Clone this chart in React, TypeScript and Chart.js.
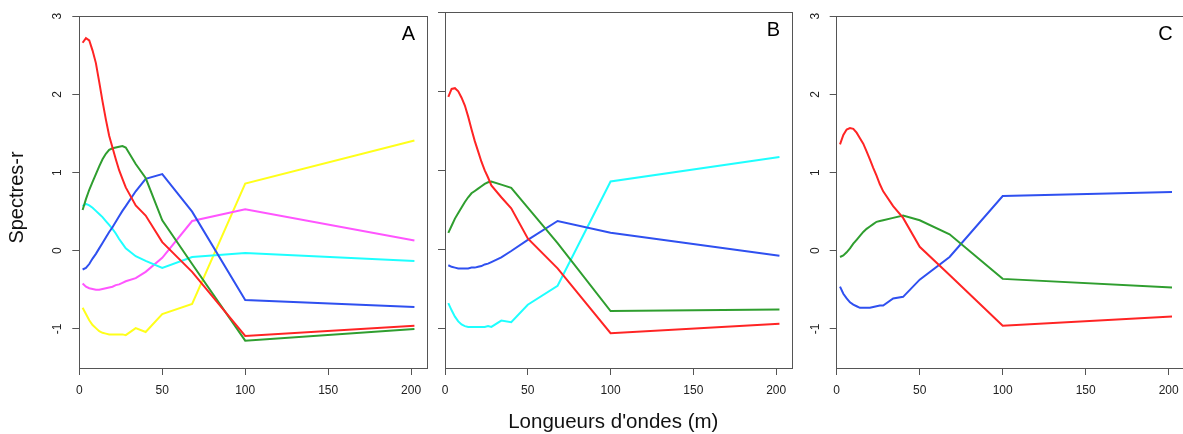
import React, { useEffect, useRef } from 'react';
import { Chart, registerables } from 'chart.js';

Chart.register(...registerables);

// ---------- data ----------
const wavelengths = [2, 4, 6, 8, 10, 12, 14, 16, 18, 20, 22, 24, 26, 28, 34, 40, 50, 68, 100, 202];
const xTickValues = [0, 50, 100, 150, 200];
const yTickValues = [-1, 0, 1, 2, 3];
const panelLetters = ['A', 'B', 'C'];
const xAxisTitle = "Longueurs d'ondes (m)";
const yAxisTitle = 'Spectres-r';

const aRed = [2.66, 2.72, 2.69, 2.56, 2.40, 2.16, 1.91, 1.68, 1.47, 1.32, 1.17, 1.03, 0.92, 0.81, 0.58, 0.45, 0.11, -0.27, -1.09, -0.96];
const aGreen = [0.52, 0.66, 0.78, 0.88, 0.98, 1.08, 1.17, 1.24, 1.29, 1.31, 1.32, 1.33, 1.34, 1.32, 1.11, 0.93, 0.39, -0.17, -1.15, -1.0];
const aBlue = [-0.24, -0.22, -0.17, -0.10, -0.04, 0.03, 0.10, 0.17, 0.24, 0.30, 0.37, 0.44, 0.51, 0.57, 0.76, 0.92, 0.98, 0.50, -0.63, -0.72];
const aCyan = [0.57, 0.60, 0.58, 0.55, 0.51, 0.47, 0.43, 0.38, 0.33, 0.28, 0.22, 0.15, 0.09, 0.03, -0.07, -0.13, -0.22, -0.08, -0.03, -0.13];
const aMagenta = [-0.42, -0.46, -0.48, -0.49, -0.50, -0.50, -0.49, -0.48, -0.47, -0.46, -0.44, -0.43, -0.41, -0.39, -0.35, -0.27, -0.09, 0.38, 0.53, 0.13];
const aYellow = [-0.73, -0.81, -0.89, -0.95, -0.99, -1.03, -1.05, -1.06, -1.07, -1.07, -1.07, -1.07, -1.07, -1.08, -0.99, -1.04, -0.81, -0.68, 0.86, 1.41];

const bRed = [1.93, 2.03, 2.04, 2.00, 1.92, 1.82, 1.68, 1.52, 1.37, 1.24, 1.11, 1.00, 0.91, 0.81, 0.66, 0.52, 0.14, -0.24, -1.06, -0.94];
const bGreen = [0.21, 0.30, 0.39, 0.46, 0.53, 0.60, 0.66, 0.71, 0.74, 0.77, 0.80, 0.83, 0.85, 0.86, 0.82, 0.78, 0.53, 0.08, -0.78, -0.76];
const bBlue = [-0.20, -0.22, -0.23, -0.24, -0.24, -0.24, -0.24, -0.23, -0.23, -0.22, -0.21, -0.19, -0.18, -0.16, -0.10, -0.02, 0.12, 0.36, 0.21, -0.08];
const bCyan = [-0.68, -0.77, -0.85, -0.91, -0.95, -0.97, -0.98, -0.98, -0.98, -0.98, -0.98, -0.98, -0.97, -0.98, -0.90, -0.92, -0.70, -0.46, 0.86, 1.17];

const cRed = [1.36, 1.48, 1.55, 1.57, 1.56, 1.51, 1.44, 1.37, 1.27, 1.17, 1.06, 0.96, 0.85, 0.76, 0.57, 0.42, 0.05, -0.31, -0.96, -0.84];
const cGreen = [-0.08, -0.06, -0.02, 0.03, 0.09, 0.14, 0.19, 0.24, 0.28, 0.31, 0.34, 0.37, 0.38, 0.39, 0.42, 0.45, 0.39, 0.21, -0.36, -0.47];
const cBlue = [-0.46, -0.55, -0.61, -0.66, -0.69, -0.71, -0.73, -0.73, -0.73, -0.73, -0.72, -0.71, -0.70, -0.70, -0.61, -0.59, -0.37, -0.08, 0.70, 0.75];

// ---------- styles ----------
const RED = '#ff2424';
const GREEN = '#2f9e2f';
const BLUE = '#2f50f0';
const CYAN = '#1effff';
const MAGENTA = '#ff55ff';
const YELLOW = '#ffff1a';
const FRAME = '#555555';
const TEXT = '#222222';
const FONT = '"Liberation Sans", Arial, Helvetica, sans-serif';

const CANVAS_W = 1200;
const CANVAS_H = 434;
const PLOT_TOP = 12.3;
const PLOT_BOTTOM = 368;

const panelSeries = [
  [
    { color: RED, values: aRed },
    { color: GREEN, values: aGreen },
    { color: BLUE, values: aBlue },
    { color: CYAN, values: aCyan },
    { color: MAGENTA, values: aMagenta },
    { color: YELLOW, values: aYellow },
  ],
  [
    { color: RED, values: bRed },
    { color: GREEN, values: bGreen },
    { color: BLUE, values: bBlue },
    { color: CYAN, values: bCyan },
  ],
  [
    { color: RED, values: cRed },
    { color: GREEN, values: cGreen },
    { color: BLUE, values: cBlue },
  ],
];

const panelGeom = [
  { left: 79.3, right: 427.7, yLabels: true, titles: true },
  { left: 445, right: 792.7, yLabels: false, titles: false },
  { left: 836.7, right: 1185.3, yLabels: true, titles: false },
];

const decorPlugin = {
  id: 'decor',
  afterDatasetsDraw(chart: any, _args: any, opts: any) {
    const { ctx, chartArea } = chart;
    const { left, top, right, bottom } = chartArea;
    ctx.save();
    ctx.strokeStyle = FRAME;
    ctx.lineWidth = 1;
    const x0 = Math.floor(left) + 0.5;
    const y0 = Math.floor(top) + 0.5;
    const x1 = Math.floor(right) + 0.5;
    const y1 = Math.floor(bottom) + 0.5;
    ctx.strokeRect(x0, y0, x1 - x0, y1 - y0);

    ctx.fillStyle = '#000';
    ctx.font = `20px ${FONT}`;
    ctx.textAlign = 'right';
    ctx.textBaseline = 'alphabetic';
    ctx.fillText(opts.letter, right - 12.5, top + 23.7);

    if (opts.titles) {
      ctx.fillStyle = '#111';
      ctx.font = `20.5px ${FONT}`;
      ctx.textAlign = 'center';
      ctx.fillText(xAxisTitle, 613.3, 427.5);
      ctx.font = `20px ${FONT}`;
      ctx.translate(22.6, 197.5);
      ctx.rotate(-Math.PI / 2);
      ctx.fillText(yAxisTitle, 0, 0);
    }
    ctx.restore();
  },
};

function Panel({ index }: { index: number }) {
  const ref = useRef<HTMLCanvasElement>(null);
  useEffect(() => {
    const geom = panelGeom[index];
    const series = panelSeries[index];
    const chart = new Chart(ref.current as HTMLCanvasElement, {
      type: 'line',
      data: {
        datasets: series.map((s) => ({
          data: wavelengths.map((w, i) => ({ x: w, y: s.values[i] })),
          borderColor: s.color,
          backgroundColor: s.color,
          borderWidth: 2,
          pointRadius: 0,
          tension: 0,
          fill: false,
        })),
      },
      options: {
        animation: false,
        responsive: false,
        devicePixelRatio: 1,
        events: [],
        layout: {
          padding: { left: 0, right: CANVAS_W - geom.right, top: PLOT_TOP, bottom: 0 },
        },
        plugins: {
          legend: { display: false },
          tooltip: { enabled: false },
          title: { display: false },
          decor: { letter: panelLetters[index], titles: geom.titles },
        } as any,
        scales: {
          x: {
            type: 'linear',
            position: 'bottom',
            min: 0,
            max: 210,
            afterBuildTicks: (s: any) => {
              s.ticks = xTickValues.map((v) => ({ value: v }));
            },
            afterFit: (s: any) => {
              s.height = CANVAS_H - PLOT_BOTTOM;
            },
            border: { display: false },
            grid: {
              display: true,
              drawOnChartArea: false,
              drawTicks: true,
              tickLength: 7,
              color: FRAME,
              lineWidth: 1,
            },
            ticks: {
              autoSkip: false,
              maxRotation: 0,
              minRotation: 0,
              padding: 8,
              color: TEXT,
              font: { family: FONT, size: 12 },
            },
          },
          y: {
            type: 'linear',
            position: 'left',
            min: -1.5,
            max: 3,
            afterBuildTicks: (s: any) => {
              s.ticks = yTickValues.map((v) => ({ value: v }));
            },
            afterFit: (s: any) => {
              s.width = geom.left;
            },
            border: { display: false },
            grid: {
              display: true,
              drawOnChartArea: false,
              drawTicks: true,
              tickLength: 7,
              color: FRAME,
              lineWidth: 1,
            },
            ticks: {
              display: geom.yLabels,
              minRotation: 90,
              maxRotation: 90,
              crossAlign: 'center',
              padding: 9,
              color: TEXT,
              font: { family: FONT, size: 12 },
            },
          },
        },
      },
      plugins: [decorPlugin],
    } as any);
    return () => chart.destroy();
  }, [index]);
  return (
    <canvas
      ref={ref}
      width={CANVAS_W}
      height={CANVAS_H}
      style={{ position: 'absolute', left: 0, top: 0, width: CANVAS_W, height: CANVAS_H }}
    />
  );
}

export default function App() {
  return (
    <div
      style={{
        position: 'fixed',
        left: 0,
        top: 0,
        width: 1183,
        height: 434,
        overflow: 'hidden',
        background: '#ffffff',
      }}
    >
      <Panel index={0} />
      <Panel index={1} />
      <Panel index={2} />
    </div>
  );
}
